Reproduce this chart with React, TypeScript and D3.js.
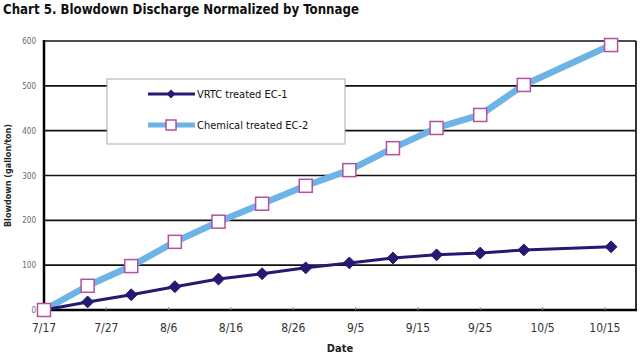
import React, { useEffect, useRef } from 'react';
import * as d3 from 'd3';

// sample dates (weekly, 10/9 missing in both series)
const sampleDates = ['7/17', '7/24', '7/31', '8/7', '8/14', '8/21', '8/28', '9/4', '9/11', '9/18', '9/25', '10/2', '10/16'];
const vrtcValues = [0, 18, 34, 52, 69, 81, 94, 105, 116, 123, 127, 134, 141];
const chemValues = [0, 54, 98, 152, 197, 237, 277, 312, 361, 406, 435, 502, 591];
const tickDates = ['7/17', '7/27', '8/6', '8/16', '8/26', '9/5', '9/15', '9/25', '10/5', '10/15'];
const yTicks = [0, 100, 200, 300, 400, 500, 600];
const seriesNames = ['VRTC treated EC-1', 'Chemical treated EC-2'];

const YEAR = 2003;
const toDate = (s: string) => {
    const [m, d] = s.split('/').map(Number);
    return new Date(Date.UTC(YEAR, m - 1, d));
};

const W = 640, H = 358;
const left = 44, right = 636, top = 41, bottom = 310;
const FONT = "'Liberation Sans Narrow', 'DejaVu Sans Condensed', 'Roboto', sans-serif";
const NAVY = '#241a72';
const SKY = '#6db3e6';
const PINK = '#b4509e';

const Chart = () => {
    const ref = useRef<SVGGElement>(null);

    useEffect(() => {
        const g = d3.select(ref.current);
        g.selectAll('*').remove();

        const start = toDate('7/17');
        const x = d3.scaleUtc()
            .domain([start, d3.utcDay.offset(start, 95.5)])
            .range([left, right]);
        const y = d3.scaleLinear().domain([0, 600]).range([bottom, top]);

        // title
        g.append('text')
            .attr('x', 3).attr('y', 14)
            .attr('font-family', FONT).attr('font-weight', 'bold')
            .attr('font-size', 14).attr('fill', '#111')
            .attr('textLength', 356).attr('lengthAdjust', 'spacingAndGlyphs')
            .text('Chart 5. Blowdown Discharge Normalized by Tonnage');

        // plot frame + gridlines
        g.append('rect')
            .attr('x', left).attr('y', top)
            .attr('width', right - left).attr('height', bottom - top)
            .attr('fill', '#fff');

        g.selectAll('line.grid').data(yTicks.filter(v => v > 0))
            .enter().append('line')
            .attr('class', 'grid')
            .attr('x1', left).attr('x2', right)
            .attr('y1', d => y(d)).attr('y2', d => y(d))
            .attr('stroke', '#111').attr('stroke-width', 1.7);

        g.append('line')
            .attr('x1', right).attr('x2', right)
            .attr('y1', top).attr('y2', bottom)
            .attr('stroke', '#111').attr('stroke-width', 1.7);

        // axes
        g.append('line')
            .attr('x1', left).attr('x2', left)
            .attr('y1', top - 1).attr('y2', bottom + 1)
            .attr('stroke', '#000').attr('stroke-width', 2.5);
        g.append('line')
            .attr('x1', left).attr('x2', right + 1)
            .attr('y1', bottom).attr('y2', bottom)
            .attr('stroke', '#000').attr('stroke-width', 2.5);

        // y tick labels
        g.selectAll('text.ytick').data(yTicks)
            .enter().append('text')
            .attr('class', 'ytick')
            .attr('x', left - 8).attr('y', d => y(d) + 3)
            .attr('text-anchor', 'end')
            .attr('font-family', FONT).attr('font-size', 8).attr('fill', '#666')
            .text(d => d);

        // x ticks + labels
        const xt = g.selectAll('g.xtick').data(tickDates.map(toDate))
            .enter().append('g')
            .attr('class', 'xtick')
            .attr('transform', d => `translate(${x(d)},0)`);
        xt.filter((d, i) => i > 0).append('line')
            .attr('y1', bottom - 3).attr('y2', bottom)
            .attr('stroke', '#888').attr('stroke-width', 1);
        xt.append('text')
            .attr('y', bottom + 22)
            .attr('text-anchor', 'middle')
            .attr('font-family', FONT).attr('font-size', 12).attr('fill', '#333')
            .text((d, i) => tickDates[i]);

        // axis titles
        g.append('text')
            .attr('x', 340).attr('y', 352)
            .attr('text-anchor', 'middle')
            .attr('font-family', FONT).attr('font-weight', 'bold')
            .attr('font-size', 11).attr('fill', '#222')
            .text('Date');
        g.append('text')
            .attr('transform', `translate(11,${(top + bottom) / 2}) rotate(-90)`)
            .attr('text-anchor', 'middle')
            .attr('font-family', FONT).attr('font-weight', 'bold')
            .attr('font-size', 9).attr('fill', '#222')
            .text('Blowdown (gallon/ton)');

        const dates = sampleDates.map(toDate);
        const line = d3.line<number>()
            .x((d, i) => x(dates[i]))
            .y(d => y(d));

        // chemical series
        g.append('path')
            .attr('d', line(chemValues))
            .attr('fill', 'none').attr('stroke', SKY)
            .attr('stroke-width', 6.5).attr('stroke-linejoin', 'round');

        // VRTC series
        g.append('path')
            .attr('d', line(vrtcValues))
            .attr('fill', 'none').attr('stroke', NAVY)
            .attr('stroke-width', 3).attr('stroke-linejoin', 'round');

        const diamond = d3.symbol().type(d3.symbolDiamond2).size(90);
        g.selectAll('path.vm').data(vrtcValues)
            .enter().append('path')
            .attr('class', 'vm')
            .attr('d', diamond)
            .attr('transform', (d, i) => `translate(${x(dates[i])},${y(d)})`)
            .attr('fill', NAVY).attr('stroke', NAVY).attr('stroke-width', 1);

        g.selectAll('rect.cm').data(chemValues)
            .enter().append('rect')
            .attr('class', 'cm')
            .attr('x', (d, i) => x(dates[i]) - 6.5)
            .attr('y', d => y(d) - 6.5)
            .attr('width', 13).attr('height', 13)
            .attr('fill', '#fff').attr('stroke', PINK).attr('stroke-width', 1.5);

        // legend
        const lg = g.append('g');
        lg.append('rect')
            .attr('x', 107).attr('y', 79)
            .attr('width', 238).attr('height', 65)
            .attr('fill', '#fff').attr('stroke', '#aaa').attr('stroke-width', 1);
        const rows = lg.selectAll('g.row').data(seriesNames)
            .enter().append('g')
            .attr('class', 'row')
            .attr('transform', (d, i) => `translate(0,${i === 0 ? 94 : 125})`);
        rows.append('line')
            .attr('x1', 148).attr('x2', 195)
            .attr('stroke', (d, i) => i === 0 ? NAVY : SKY)
            .attr('stroke-width', (d, i) => i === 0 ? 3 : 5);
        rows.filter((d, i) => i === 0).append('path')
            .attr('d', d3.symbol().type(d3.symbolDiamond2).size(50))
            .attr('transform', 'translate(171,0)')
            .attr('fill', NAVY);
        rows.filter((d, i) => i === 1).append('rect')
            .attr('x', 166).attr('y', -5).attr('width', 10).attr('height', 10)
            .attr('fill', '#fff').attr('stroke', PINK).attr('stroke-width', 1.5);
        rows.append('text')
            .attr('x', 197).attr('y', 4)
            .attr('font-family', FONT).attr('font-size', 11).attr('fill', '#111')
            .text(d => d);
    }, []);

    return (
        <svg width={W} height={H} style={{ position: 'absolute', left: 0, top: 0, background: '#fff' }}>
            <g ref={ref} />
        </svg>
    );
};

export default function App() {
    return <Chart />;
}
